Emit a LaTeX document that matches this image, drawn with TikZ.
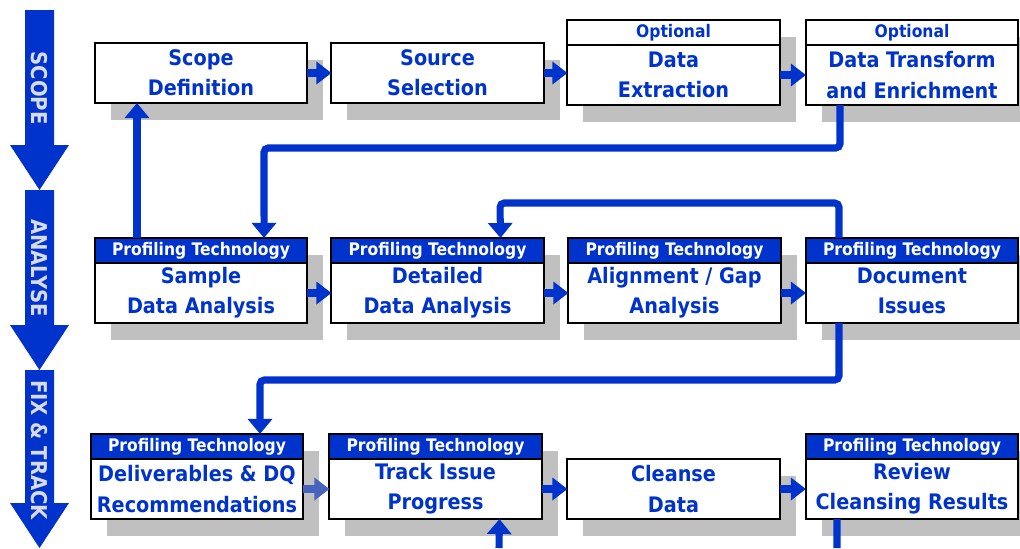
\documentclass[tikz,border=0pt]{standalone}
\usepackage{fontspec}
\setmainfont{DejaVu Sans Condensed}
\usepackage{tikz}
\usetikzlibrary{arrows.meta,positioning,shadows}

\definecolor{dqblue}{RGB}{0,51,204}
\definecolor{fadedblue}{RGB}{70,100,190}
\definecolor{shadegray}{RGB}{192,192,192}
\definecolor{phasetext}{RGB}{215,220,232}

\begin{document}
\begin{tikzpicture}
[x=0.025cm,y=-0.025cm,
  shadowed/.style={drop shadow={shadow xshift=.4cm,shadow yshift=-.42cm,fill=shadegray,opacity=1}},
  stepbox/.style={draw,fill=white,line width=1.4pt,outer sep=0pt,inner sep=0pt,
    minimum width=5.3cm,minimum height=1.5cm,align=center,text=dqblue,
    font=\bfseries\fontsize{15.2}{21.5}\selectfont,shadowed},
  techbox/.style={draw,fill=dqblue,line width=1.4pt,outer sep=0pt,inner sep=0pt,
    minimum width=5.3cm,minimum height=.625cm,text=white,
    font=\bfseries\fontsize{12.3}{13}\selectfont,shadowed},
  optbox/.style={techbox,fill=white,text=dqblue},
  flow/.style={draw=dqblue,line width=5.7pt,-{Triangle[width=15.6pt,length=10.7pt]}},
  fadedflow/.style={flow,draw=fadedblue},
  loop/.style={draw=dqblue,line width=5pt,rounded corners=3pt,-{Triangle[width=17pt,length=10.7pt]}},
  loopline/.style={draw=dqblue,line width=5pt},
  phase/.style={fill=dqblue},
  phase label/.style={rotate=-90,text=phasetext,font=\bfseries\fontsize{15.5}{16}\selectfont}]

  \useasboundingbox (0,0) rectangle (1020,548);

  % phase arrows on the left
  \foreach \ytop/\yneck/\ytip/\ymid/\pname/\lbl in
    {10/145/190/88/phscope/SCOPE,190/325/370/268/phanalyse/ANALYSE,370/503/548/450/phfix/FIX \& TRACK}
  {
    \fill [phase] (25,\ytop) -- (54,\ytop) -- (54,\yneck) -- (69,\yneck) -- (39.5,\ytip)
      -- (10,\yneck) -- (25,\yneck) -- cycle;
    \node [phase label] (\pname) at (39.5,\ymid) {\lbl};
  }

  % scope row
  \node [stepbox] (scope) at (201,73) {Scope\\Definition};
  \node [stepbox] (source) at (437.5,73) {Source\\Selection};
  \node [optbox] (extracth) at (673.5,32.5) {Optional};
  \node [stepbox,below=0pt of extracth] (extract) {Data\\Extraction};
  \node [optbox] (transformh) at (912,32.5) {Optional};
  \node [stepbox,below=0pt of transformh] (transform) {Data Transform\\and Enrichment};

  % analyse row
  \node [techbox] (sampleh) at (201,250.5) {Profiling Technology};
  \node [stepbox,below=0pt of sampleh] (sample) {Sample\\Data Analysis};
  \node [techbox] (detailedh) at (437.5,250.5) {Profiling Technology};
  \node [stepbox,below=0pt of detailedh] (detailed) {Detailed\\Data Analysis};
  \node [techbox] (alignh) at (674.5,250.5) {Profiling Technology};
  \node [stepbox,below=0pt of alignh] (align) {Alignment / Gap\\Analysis};
  \node [techbox] (docuh) at (912,250.5) {Profiling Technology};
  \node [stepbox,below=0pt of docuh] (docu) {Document\\Issues\vphantom{y}};

  % fix & track row
  \node [techbox] (delivh) at (197,446.5) {Profiling Technology};
  \node [stepbox,below=0pt of delivh] (deliv) {Deliverables \& DQ\\Recommendations};
  \node [techbox] (trackh) at (435.5,446.5) {Profiling Technology};
  \node [stepbox,below=0pt of trackh] (track) {Track Issue\\Progress};
  \node [stepbox] (cleanse) at (673.5,489) {Cleanse\\Data};
  \node [techbox] (reviewh) at (912,446.5) {Profiling Technology};
  \node [stepbox,below=0pt of reviewh] (review) {Review\\Cleansing Results};

  \foreach \from/\to in {scope/source,source/extract,extract/transform,sample/detailed,detailed/align,align/docu,track/cleanse,cleanse/review}
    \draw [flow] (\from.east) -- (\from.east -| \to.west);
  \draw [fadedflow] (deliv.east) -- (deliv.east -| track.west);

  % loops between rows
  \coordinate (bendone) at (264,148);
  \coordinate (bendtwo) at (500,203);
  \coordinate (bendthree) at (260,380);
  \coordinate (trackin) at (499,548);
  \coordinate (reviewout) at (837,548);

  \draw [loop] ([xshift=1.05cm]sampleh.north west) -- ([xshift=1.05cm]scope.south west);
  \draw [loop] ([xshift=.85cm]transform.south west) |- (bendone) -- ([xshift=4.225cm]sampleh.north west);
  \draw [loop] ([xshift=.825cm]docuh.north west) |- (bendtwo) -- ([xshift=4.225cm]detailedh.north west);
  \draw [loop] ([xshift=.825cm]docu.south west) |- (bendthree) -- ([xshift=4.225cm]delivh.north west);
  \draw [loop] (trackin) -- ([xshift=4.25cm]track.south west);
  \draw [loopline] ([xshift=.775cm]review.south west) -- (reviewout);

\end{tikzpicture}
\end{document}
